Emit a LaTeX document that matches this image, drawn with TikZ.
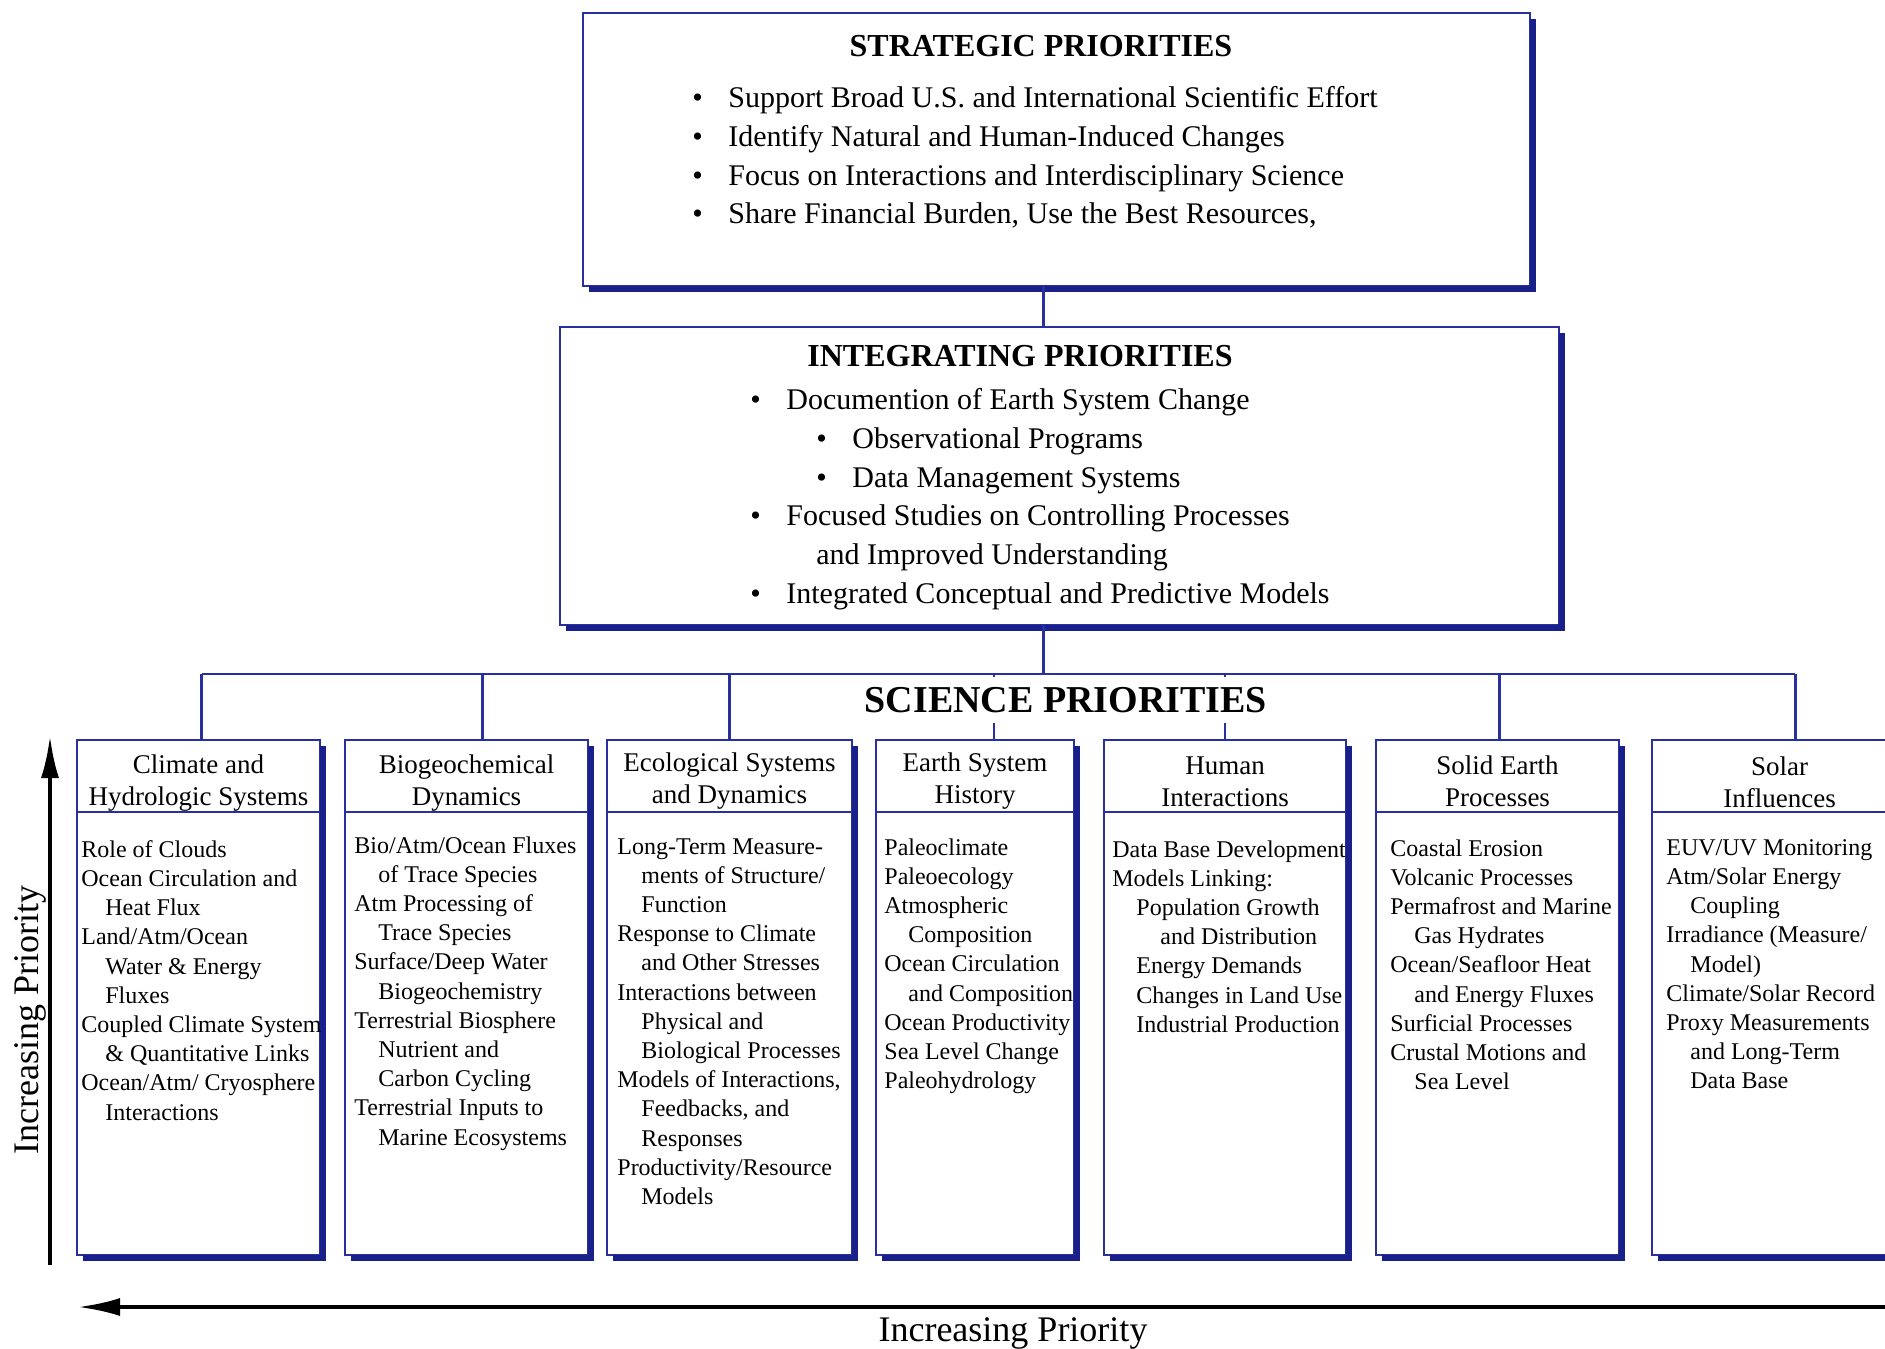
\documentclass[tikz,border=0pt]{standalone}
\usepackage{fontspec}
\setmainfont{Liberation Serif}
\usetikzlibrary{arrows.meta}

\definecolor{prioblue}{RGB}{40,48,160}
\definecolor{shadeblue}{RGB}{26,32,138}

\newcommand{\bul}{\makebox[18pt][l]{\textbullet}}
\newcommand{\indt}{\hspace*{12pt}}

\tikzset{
  prio box/.style={draw=prioblue, line width=1pt, rectangle, inner sep=0pt, outer sep=0pt, anchor=north west},
  shade edge/.style={draw=shadeblue, line width=3pt},
  link/.style={draw=prioblue, line width=1.1pt},
  txt/.style={inner sep=0pt, anchor=north west, align=left},
  body/.style={txt, font=\fontsize{12}{14.6}\selectfont},
  head/.style={inner sep=0pt, align=center, font=\fontsize{13.5}{16.2}\selectfont},
  big/.style={txt, font=\fontsize{15}{19.4}\selectfont},
  axis/.style={line width=2pt, -{Latex[length=21pt,width=9pt]}}
}

\begin{document}
\begin{tikzpicture}[x=0.5pt,y=-0.5pt]
    \useasboundingbox (0,0) rectangle (1885,1349);

    % strategic priorities
    \node[prio box, minimum width=473.5pt, minimum height=136.5pt] (strat) at (583,13) {};
    \node[font=\bfseries\fontsize{16}{19}\selectfont] (strattitle) at (1041,46) {STRATEGIC PRIORITIES};
    \node[big] (strattext) at (692,86) {%
        \bul Support Broad U.S. and International Scientific Effort\\
        \bul Identify Natural and Human-Induced Changes\\
        \bul Focus on Interactions and Interdisciplinary Science\\
        \bul Share Financial Burden, Use the Best Resources,};

    % integrating priorities
    \node[prio box, minimum width=499.5pt, minimum height=149pt] (integ) at (560,327) {};
    \node[font=\bfseries\fontsize{16}{19}\selectfont] (integtitle) at (1020,356) {INTEGRATING PRIORITIES};
    \node[big] (integtext) at (750,388) {%
        \bul Documention of Earth System Change\\
        \hspace*{33pt}\bul Observational Programs\\
        \hspace*{33pt}\bul Data Management Systems\\
        \bul Focused Studies on Controlling Processes\\
        \hspace*{33pt}and Improved Understanding\\
        \bul Integrated Conceptual and Predictive Models};

    % science priorities, one box per column
    \node[prio box, minimum width=121.5pt, minimum height=257.5pt] (clim) at (77,740) {};
    \node[prio box, minimum width=121.5pt, minimum height=257.5pt] (bio) at (345,740) {};
    \node[prio box, minimum width=122.5pt, minimum height=257.5pt] (eco) at (607,740) {};
    \node[prio box, minimum width=99pt, minimum height=257.5pt] (earth) at (876,740) {};
    \node[prio box, minimum width=121pt, minimum height=257.5pt] (human) at (1104,740) {};
    \node[prio box, minimum width=121.5pt, minimum height=257.5pt] (solid) at (1376,740) {};
    \node[prio box, minimum width=121.5pt, minimum height=257.5pt] (solar) at (1652,740) {};

    % shadows and header lines
    \foreach \bx in {strat,integ,clim,bio,eco,earth,human,solid,solar} {
        \draw[shade edge] ([xshift=1.5pt,yshift=-3pt]\bx.north east)
            -- ([xshift=1.5pt,yshift=-1.5pt]\bx.south east)
            -- ([xshift=3pt,yshift=-1.5pt]\bx.south west);
    }
    \foreach \bx in {clim,bio,eco,earth,human,solid,solar} {
        \draw[link] ([yshift=-36pt]\bx.north west) -- ([yshift=-36pt]\bx.north east);
    }

    % headers
    \node[head] (climhead) at ([yshift=-21.5pt]clim.north) {Climate and\\Hydrologic Systems};
    \node[head] (biohead) at ([yshift=-21.5pt]bio.north) {Biogeochemical\\Dynamics};
    \node[head] (ecohead) at ([yshift=-20.5pt]eco.north) {Ecological Systems\\and Dynamics};
    \node[head] (earthhead) at ([yshift=-20.5pt]earth.north) {Earth System\\History};
    \node[head] (humanhead) at ([yshift=-21pt]human.north) {Human\\Interactions};
    \node[head] (solidhead) at ([yshift=-20.5pt]solid.north) {Solid Earth\\Processes};
    \node[head] (solarhead) at ([xshift=3pt,yshift=-21pt]solar.north) {Solar\\Influences};

    % column texts
    \node[body] (climtext) at ([xshift=2pt,yshift=-50pt]clim.north west) {%
        Role of Clouds\\
        Ocean Circulation and\\
        \indt Heat Flux\\
        Land/Atm/Ocean\\
        \indt Water \& Energy\\
        \indt Fluxes\\
        Coupled Climate System\\
        \indt \& Quantitative Links\\
        Ocean/Atm/ Cryosphere\\
        \indt Interactions};
    \node[body] (biotext) at ([xshift=4.5pt,yshift=-48pt]bio.north west) {%
        Bio/Atm/Ocean Fluxes\\
        \indt of Trace Species\\
        Atm Processing of\\
        \indt Trace Species\\
        Surface/Deep Water\\
        \indt Biogeochemistry\\
        Terrestrial Biosphere\\
        \indt Nutrient and\\
        \indt Carbon Cycling\\
        Terrestrial Inputs to\\
        \indt Marine Ecosystems};
    \node[body] (ecotext) at ([xshift=5pt,yshift=-49pt]eco.north west) {%
        Long-Term Measure-\\
        \indt ments of Structure/\\
        \indt Function\\
        Response to Climate\\
        \indt and Other Stresses\\
        Interactions between\\
        \indt Physical and\\
        \indt Biological Processes\\
        Models of Interactions,\\
        \indt Feedbacks, and\\
        \indt Responses\\
        Productivity/Resource\\
        \indt Models};
    \node[body] (earthtext) at ([xshift=4pt,yshift=-49pt]earth.north west) {%
        Paleoclimate\\
        Paleoecology\\
        Atmospheric\\
        \indt Composition\\
        Ocean Circulation\\
        \indt and Composition\\
        Ocean Productivity\\
        Sea Level Change\\
        Paleohydrology};
    \node[body] (humantext) at ([xshift=4pt,yshift=-50pt]human.north west) {%
        Data Base Development\\
        Models Linking:\\
        \indt Population Growth\\
        \indt\indt and Distribution\\
        \indt Energy Demands\\
        \indt Changes in Land Use\\
        \indt Industrial Production};
    \node[body] (solidtext) at ([xshift=7pt,yshift=-49.5pt]solid.north west) {%
        Coastal Erosion\\
        Volcanic Processes\\
        Permafrost and Marine\\
        \indt Gas Hydrates\\
        Ocean/Seafloor Heat\\
        \indt and Energy Fluxes\\
        Surficial Processes\\
        Crustal Motions and\\
        \indt Sea Level};
    \node[body] (solartext) at ([xshift=7pt,yshift=-49.5pt]solar.north west) {%
        EUV/UV Monitoring\\
        Atm/Solar Energy\\
        \indt Coupling\\
        Irradiance (Measure/\\
        \indt Model)\\
        Climate/Solar Record\\
        Proxy Measurements\\
        \indt and Long-Term\\
        \indt Data Base};

    % connectors
    \coordinate (fold) at (1043.5,0);
    \coordinate (bus) at (202,674);
    \coordinate (busend) at (1795,674);
    \draw[link] (strat.south -| fold) -- (integ.north -| fold);
    \draw[link] (integ.south -| fold) -- (bus -| fold);
    \draw[link] (bus) -- (busend);
    \foreach \bx/\dx in {clim/1.5,bio/8,eco/0,earth/9.5,human/0,solid/1,solar/11} {
        \draw[link] ([xshift=\dx pt]\bx.north) -- ++(0,-66);
    }
    \node[fill=white, inner xsep=2pt, inner ysep=5pt, font=\bfseries\fontsize{19}{22}\selectfont] (scititle) at (1066,700) {SCIENCE PRIORITIES};

    % priority axes
    \coordinate (vB) at (50,1265);
    \coordinate (vT) at (50,736);
    \draw[axis] (vB) -- (vT);
    \node[rotate=90, font=\fontsize{18}{20}\selectfont] (vlabel) at (30,1020) {Increasing Priority};

    \coordinate (hR) at (1885,1307);
    \coordinate (hL) at (78,1307);
    \draw[axis] (hR) -- (hL);
    \node[font=\fontsize{18}{20}\selectfont] (hlabel) at (1013,1333) {Increasing Priority};
\end{tikzpicture}
\end{document}
